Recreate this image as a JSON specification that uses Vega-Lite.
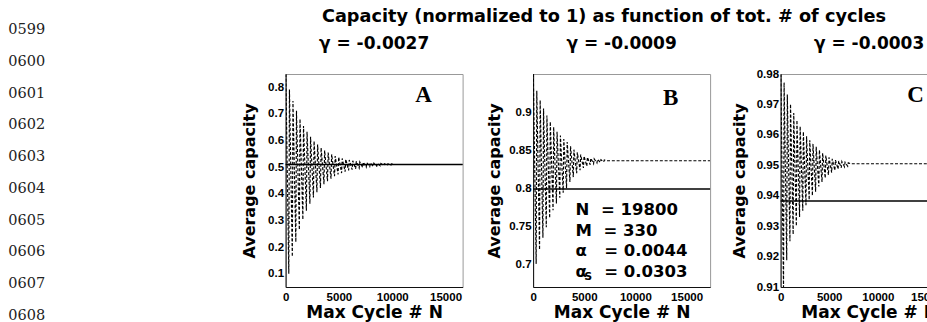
{
  "$schema": "https://vega.github.io/schema/vega-lite/v6.json",
  "padding": {"left": 0, "top": 7, "right": 0, "bottom": 0},
  "background": "white",
  "datasets": {
    "A": [
      {"N": 20, "c": 0.85},
      {"N": 300, "c": 0.100}, {"N": 360, "c": 0.792},
      {"N": 630, "c": 0.164}, {"N": 690, "c": 0.749},
      {"N": 960, "c": 0.219}, {"N": 1020, "c": 0.712},
      {"N": 1290, "c": 0.265}, {"N": 1350, "c": 0.681},
      {"N": 1620, "c": 0.303}, {"N": 1680, "c": 0.655},
      {"N": 1950, "c": 0.336}, {"N": 2010, "c": 0.633},
      {"N": 2280, "c": 0.363}, {"N": 2340, "c": 0.614},
      {"N": 2610, "c": 0.386}, {"N": 2670, "c": 0.598},
      {"N": 2940, "c": 0.406}, {"N": 3000, "c": 0.585},
      {"N": 3270, "c": 0.422}, {"N": 3330, "c": 0.573},
      {"N": 3600, "c": 0.436}, {"N": 3660, "c": 0.563},
      {"N": 3930, "c": 0.447}, {"N": 3990, "c": 0.555},
      {"N": 4260, "c": 0.457}, {"N": 4320, "c": 0.548},
      {"N": 4590, "c": 0.466}, {"N": 4650, "c": 0.542},
      {"N": 4920, "c": 0.473}, {"N": 4980, "c": 0.538},
      {"N": 5250, "c": 0.478}, {"N": 5310, "c": 0.533},
      {"N": 5580, "c": 0.483}, {"N": 5640, "c": 0.530},
      {"N": 5910, "c": 0.488}, {"N": 5970, "c": 0.527},
      {"N": 6240, "c": 0.491}, {"N": 6300, "c": 0.524},
      {"N": 6570, "c": 0.494}, {"N": 6630, "c": 0.522},
      {"N": 6900, "c": 0.497}, {"N": 6960, "c": 0.520},
      {"N": 7230, "c": 0.499}, {"N": 7290, "c": 0.519},
      {"N": 7560, "c": 0.500}, {"N": 7620, "c": 0.517},
      {"N": 7890, "c": 0.502}, {"N": 7950, "c": 0.516},
      {"N": 8220, "c": 0.503}, {"N": 8280, "c": 0.515},
      {"N": 8550, "c": 0.504}, {"N": 8610, "c": 0.514},
      {"N": 8880, "c": 0.505}, {"N": 8940, "c": 0.514},
      {"N": 9210, "c": 0.506}, {"N": 9270, "c": 0.513},
      {"N": 9540, "c": 0.507}, {"N": 9600, "c": 0.513},
      {"N": 9870, "c": 0.507}, {"N": 9930, "c": 0.512},
      {"N": 10200, "c": 0.51}, {"N": 16600, "c": 0.51}
    ],
    "B": [
      {"N": 20, "c": 0.95},
      {"N": 300, "c": 0.7004}, {"N": 360, "c": 0.9280},
      {"N": 630, "c": 0.7189}, {"N": 690, "c": 0.9155},
      {"N": 960, "c": 0.7348}, {"N": 1020, "c": 0.9046},
      {"N": 1290, "c": 0.7486}, {"N": 1350, "c": 0.8953},
      {"N": 1620, "c": 0.7606}, {"N": 1680, "c": 0.8872},
      {"N": 1950, "c": 0.7709}, {"N": 2010, "c": 0.8802},
      {"N": 2280, "c": 0.7797}, {"N": 2340, "c": 0.8742},
      {"N": 2610, "c": 0.7874}, {"N": 2670, "c": 0.8690},
      {"N": 2940, "c": 0.7940}, {"N": 3000, "c": 0.8645},
      {"N": 3270, "c": 0.7998}, {"N": 3330, "c": 0.8606},
      {"N": 3600, "c": 0.8080}, {"N": 3660, "c": 0.8550},
      {"N": 3930, "c": 0.8145}, {"N": 3990, "c": 0.8505},
      {"N": 4260, "c": 0.8195}, {"N": 4320, "c": 0.8470},
      {"N": 4590, "c": 0.8235}, {"N": 4650, "c": 0.8440},
      {"N": 4920, "c": 0.8265}, {"N": 4980, "c": 0.8420},
      {"N": 5250, "c": 0.8290}, {"N": 5310, "c": 0.8405},
      {"N": 5580, "c": 0.8308}, {"N": 5640, "c": 0.8393},
      {"N": 5910, "c": 0.8321}, {"N": 5970, "c": 0.8385},
      {"N": 6240, "c": 0.8331}, {"N": 6300, "c": 0.8378},
      {"N": 6570, "c": 0.8339}, {"N": 6630, "c": 0.8373},
      {"N": 6900, "c": 0.8345}, {"N": 6960, "c": 0.8370},
      {"N": 7200, "c": 0.836}, {"N": 17300, "c": 0.836}
    ],
    "C": [
      {"N": 20, "c": 0.98},
      {"N": 300, "c": 0.9100}, {"N": 360, "c": 0.9772},
      {"N": 630, "c": 0.9188}, {"N": 690, "c": 0.9733},
      {"N": 960, "c": 0.9250}, {"N": 1020, "c": 0.9701},
      {"N": 1290, "c": 0.9273}, {"N": 1350, "c": 0.9672},
      {"N": 1620, "c": 0.9300}, {"N": 1680, "c": 0.9648},
      {"N": 1950, "c": 0.9330}, {"N": 2010, "c": 0.9628},
      {"N": 2280, "c": 0.9351}, {"N": 2340, "c": 0.9610},
      {"N": 2610, "c": 0.9369}, {"N": 2670, "c": 0.9595},
      {"N": 2940, "c": 0.9386}, {"N": 3000, "c": 0.9582},
      {"N": 3270, "c": 0.9400}, {"N": 3330, "c": 0.9571},
      {"N": 3600, "c": 0.9413}, {"N": 3660, "c": 0.9561},
      {"N": 3930, "c": 0.9430}, {"N": 3990, "c": 0.9550},
      {"N": 4260, "c": 0.9445}, {"N": 4320, "c": 0.9540},
      {"N": 4590, "c": 0.9458}, {"N": 4650, "c": 0.9532},
      {"N": 4920, "c": 0.9468}, {"N": 4980, "c": 0.9526},
      {"N": 5250, "c": 0.9476}, {"N": 5310, "c": 0.9521},
      {"N": 5580, "c": 0.9483}, {"N": 5640, "c": 0.9517},
      {"N": 5910, "c": 0.9488}, {"N": 5970, "c": 0.9514},
      {"N": 6240, "c": 0.9492}, {"N": 6300, "c": 0.9512},
      {"N": 6570, "c": 0.9495}, {"N": 6630, "c": 0.9510},
      {"N": 6900, "c": 0.9497}, {"N": 6960, "c": 0.9508},
      {"N": 7200, "c": 0.9505}, {"N": 18200, "c": 0.9505}
    ],
    "lineno": [
      {"n": 599, "t": "0599"}, {"n": 600, "t": "0600"}, {"n": 601, "t": "0601"},
      {"n": 602, "t": "0602"}, {"n": 603, "t": "0603"}, {"n": 604, "t": "0604"},
      {"n": 605, "t": "0605"}, {"n": 606, "t": "0606"}, {"n": 607, "t": "0607"},
      {"n": 608, "t": "0608"}
    ]
  },
  "config": {
    "view": {"stroke": "#999", "strokeWidth": 1},
    "axis": {
      "grid": false, "ticks": false, "tickCount": 20,
      "domainColor": "#111", "domainWidth": 1,
      "labelFont": "Liberation Sans", "labelFontWeight": "bold", "labelFontSize": 11.5, "labelColor": "#000",
      "labelFlush": false, "labelOverlap": false, "labelBound": false,
      "titleFont": "DejaVu Sans", "titleFontWeight": "bold", "titleFontSize": 16, "titleColor": "#000"
    },
    "axisX": {"labelPadding": 4, "titlePadding": 2, "titleFontSize": 17},
    "axisY": {"labelPadding": 2}
  },
  "bounds": "flush",
  "spacing": 231.6,
  "hconcat": [
    {
      "width": 53.4, "height": 213,
      "view": {"stroke": null},
      "data": {"name": "lineno"},
      "mark": {"type": "text", "font": "DejaVu Serif", "fontSize": 14.5, "color": "#222", "baseline": "middle"},
      "encoding": {
        "y": {"field": "n", "type": "quantitative", "scale": {"domain": [600.3845, 607.0868], "reverse": true, "nice": false, "zero": false}, "axis": null},
        "text": {"field": "t"}
      }
    },
    {
      "title": {"text": "Capacity (normalized to 1) as function of tot. # of cycles", "font": "DejaVu Sans", "fontWeight": "bold", "fontSize": 17.7, "color": "#000", "anchor": "middle", "offset": 8.5, "dx": 4},
      "bounds": "flush",
      "spacing": 70.5,
      "hconcat": [
        {
          "width": 177, "height": 213,
          "title": {"text": "γ = -0.0027", "font": "DejaVu Sans", "fontWeight": "bold", "fontSize": 17, "color": "#000", "frame": "group", "anchor": "middle", "offset": 21.5},
          "layer": [
            {
              "data": {"name": "A"},
              "mark": {"type": "line", "color": "#000", "strokeWidth": 1.15, "strokeDash": [3, 1.8], "clip": true},
              "encoding": {
                "x": {"field": "N", "type": "quantitative", "scale": {"domain": [0, 16600], "nice": false}, "axis": {"values": [0, 5000, 10000, 15000], "format": "d", "tickCount": 20, "labelOverlap": false, "title": "Max Cycle # N"}},
                "y": {"field": "c", "type": "quantitative", "scale": {"domain": [0.05, 0.85], "nice": false, "zero": false}, "axis": {"values": [0.1, 0.2, 0.3, 0.4, 0.5, 0.6, 0.7, 0.8], "format": ".1f", "tickCount": 20, "labelOverlap": false, "title": "Average capacity", "titlePadding": 10}}
              }
            },
            {
              "data": {"values": [{"c": 0.51}]},
              "mark": {"type": "rule", "color": "#000", "strokeWidth": 1.5},
              "encoding": {"y": {"field": "c", "type": "quantitative"}}
            },
            {
              "data": {"values": [{"t": "A"}]},
              "mark": {"type": "text", "font": "Liberation Serif", "fontWeight": "bold", "fontSize": 23, "baseline": "middle"},
              "encoding": {"x": {"datum": 12940}, "y": {"datum": 0.771}, "text": {"field": "t"}}
            }
          ]
        },
        {
          "width": 177, "height": 213,
          "title": {"text": "γ = -0.0009", "font": "DejaVu Sans", "fontWeight": "bold", "fontSize": 17, "color": "#000", "frame": "group", "anchor": "middle", "offset": 21.5},
          "layer": [
            {
              "data": {"name": "B"},
              "mark": {"type": "line", "color": "#000", "strokeWidth": 1.15, "strokeDash": [3, 1.8], "clip": true},
              "encoding": {
                "x": {"field": "N", "type": "quantitative", "scale": {"domain": [0, 17300], "nice": false}, "axis": {"values": [0, 5000, 10000, 15000], "format": "d", "tickCount": 20, "labelOverlap": false, "title": "Max Cycle # N"}},
                "y": {"field": "c", "type": "quantitative", "scale": {"domain": [0.67, 0.95], "nice": false, "zero": false}, "axis": {"values": [0.7, 0.75, 0.8, 0.85, 0.9], "format": ".2~f", "tickCount": 20, "labelOverlap": false, "title": "Average capacity", "titlePadding": 6}}
              }
            },
            {
              "data": {"values": [{"c": 0.7987}]},
              "mark": {"type": "rule", "color": "#000", "strokeWidth": 1.5},
              "encoding": {"y": {"field": "c", "type": "quantitative"}}
            },
            {
              "data": {"values": [{"t": "B"}]},
              "mark": {"type": "text", "font": "Liberation Serif", "fontWeight": "bold", "fontSize": 23, "baseline": "middle"},
              "encoding": {"x": {"datum": 13440}, "y": {"datum": 0.918}, "text": {"field": "t"}}
            },
            {
              "data": {"values": [{"t": "N\u00a0\u00a0=\u00a019800\nM\u00a0\u00a0=\u00a0330\nα\u00a0\u00a0\u00a0=\u00a00.0044\nα\u00a0\u00a0\u00a0=\u00a00.0303"}]},
              "mark": {"type": "text", "font": "DejaVu Sans", "fontWeight": "bold", "fontSize": 16.5, "align": "left", "baseline": "alphabetic", "lineBreak": "\n", "lineHeight": 20.5},
              "encoding": {"x": {"datum": 4154}, "y": {"datum": 0.7646}, "text": {"field": "t"}}
            },
            {
              "data": {"values": [{"t": "S"}]},
              "mark": {"type": "text", "font": "DejaVu Sans", "fontWeight": "bold", "fontSize": 11, "align": "left", "baseline": "alphabetic"},
              "encoding": {"x": {"datum": 5000}, "y": {"datum": 0.6792}, "text": {"field": "t"}}
            }
          ]
        },
        {
          "width": 177, "height": 213,
          "title": {"text": "γ = -0.0003", "font": "DejaVu Sans", "fontWeight": "bold", "fontSize": 17, "color": "#000", "frame": "group", "anchor": "middle", "offset": 15.5},
          "layer": [
            {
              "data": {"name": "C"},
              "mark": {"type": "line", "color": "#000", "strokeWidth": 1.15, "strokeDash": [3, 1.8], "clip": true},
              "encoding": {
                "x": {"field": "N", "type": "quantitative", "scale": {"domain": [0, 18200], "nice": false}, "axis": {"values": [0, 5000, 10000, 15000], "format": "d", "tickCount": 20, "labelOverlap": false, "title": "Max Cycle # N"}},
                "y": {"field": "c", "type": "quantitative", "scale": {"domain": [0.91, 0.98], "nice": false, "zero": false}, "axis": {"values": [0.91, 0.92, 0.93, 0.94, 0.95, 0.96, 0.97, 0.98], "format": ".2f", "tickCount": 20, "labelOverlap": false, "title": "Average capacity", "titlePadding": 9}}
              }
            },
            {
              "data": {"values": [{"c": 0.9383}]},
              "mark": {"type": "rule", "color": "#000", "strokeWidth": 1.5},
              "encoding": {"y": {"field": "c", "type": "quantitative"}}
            },
            {
              "data": {"values": [{"t": "C"}]},
              "mark": {"type": "text", "font": "Liberation Serif", "fontWeight": "bold", "fontSize": 23, "baseline": "middle"},
              "encoding": {"x": {"datum": 13880}, "y": {"datum": 0.9731}, "text": {"field": "t"}}
            }
          ]
        }
      ]
    }
  ]
}
